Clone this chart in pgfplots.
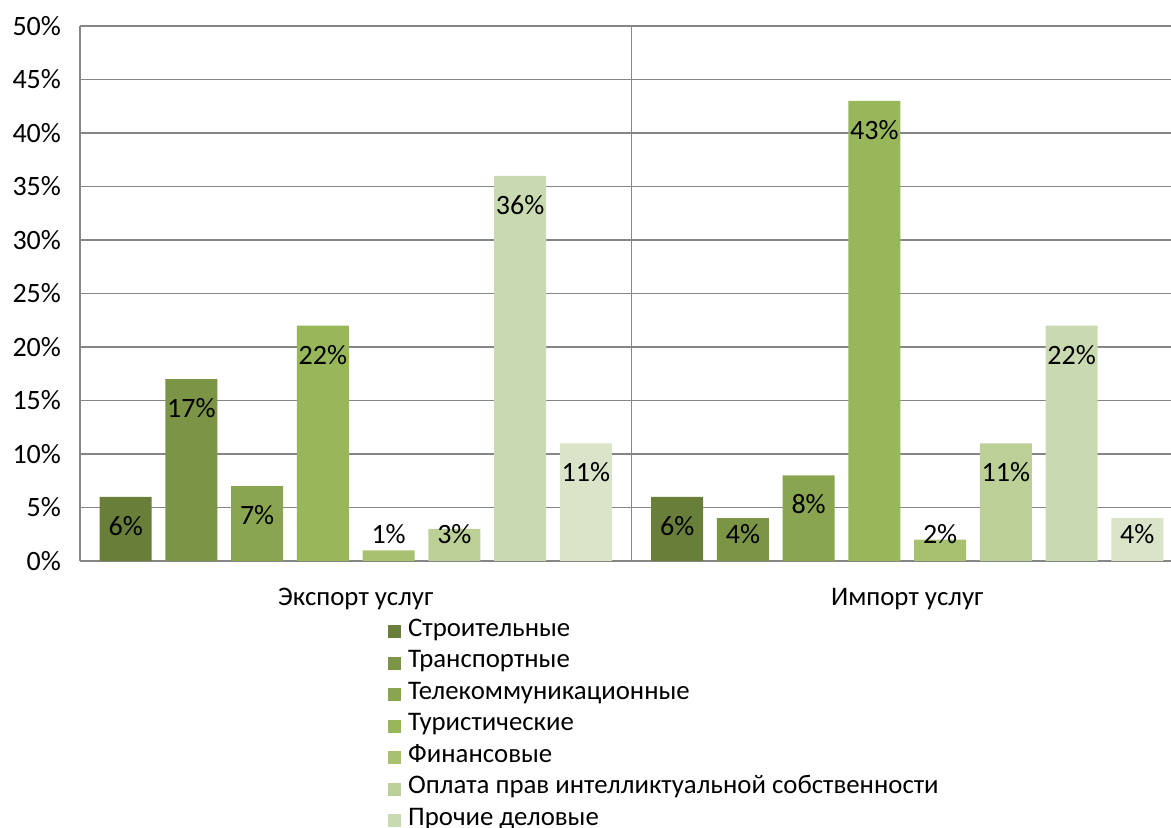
\documentclass[border=0pt]{standalone}
\usepackage{pgfplots}
\pgfplotsset{compat=1.18}
\usepackage{fontspec}
\setmainfont{Carlito}
\definecolor{c1}{HTML}{687E39}
\definecolor{c2}{HTML}{7C9445}
\definecolor{c3}{HTML}{8AA54F}
\definecolor{c4}{HTML}{98B75A}
\definecolor{c5}{HTML}{A7C171}
\definecolor{c6}{HTML}{BBCF96}
\definecolor{c7}{HTML}{CADAB0}
\definecolor{c8}{HTML}{D9E4C8}
\definecolor{gridc}{HTML}{868686}
\begin{document}
\begin{tikzpicture}
\begin{axis}[
  name=ax,
  at={(0,0)}, anchor=south west,
  scale only axis,
  width=551.5pt, height=267.5pt,
  xmin=-0.5, xmax=1.5,
  ymin=0, ymax=50,
  ytick={0,5,...,50},
  yticklabel={\pgfmathprintnumber{\tick}\%},
  xtick={0,1},
  xticklabels={Экспорт услуг, Импорт услуг},
  extra x ticks={0.5},
  extra x tick labels={},
  extra x tick style={grid=major, major tick length=0pt},
  ymajorgrids,
  grid style={draw=gridc, line width=0.8pt},
  axis x line*=bottom, axis y line*=left,
  axis line style={draw=gridc, line width=0.9pt, -},
  major tick length=0pt,
  tick style={draw=none},
  /pgf/number format/assume math mode=true,
  yticklabel style={font=\fontsize{14pt}{16pt}\selectfont, xshift=-6pt},
  xticklabel style={font=\fontsize{13.4pt}{16pt}\selectfont, yshift=-10pt},
  ybar, bar width=0.0944,
  visualization depends on={y \as \rawy},
  nodes near coords={\pgfmathprintnumber{\pgfplotspointmeta}\%},
  every node near coord/.append style={font=\fontsize{14pt}{16pt}\selectfont, color=black, anchor=center,
     yshift={-min(14.5,5.35*\rawy-13.5)*1pt}},
  legend entries={Строительные, Транспортные, Телекоммуникационные, Туристические, Финансовые, Оплата прав интелликтуальной собственности, Прочие деловые},
  legend style={draw=none, fill=none, at={(0.279,-0.1023)}, anchor=north west,
     font=\fontsize{13.4pt}{15.75pt}\selectfont, row sep=0pt, inner sep=0pt,
     nodes={inner sep=0pt, text height=10pt, text depth=5.75pt},
     /tikz/every even column/.append style={column sep=0pt}},
  legend cell align=left,
  legend image code/.code={\fill[#1] (0pt,-3.1pt) rectangle (6.5pt,3.4pt); \path (10pt,0pt);},
]
\addplot[fill=c1, draw=none, bar shift=-0.4172] coordinates {(0,6) (1,6)};
\addplot[fill=c2, draw=none, bar shift=-0.2980] coordinates {(0,17) (1,4)};
\addplot[fill=c3, draw=none, bar shift=-0.1788] coordinates {(0,7) (1,8)};
\addplot[fill=c4, draw=none, bar shift=-0.0596] coordinates {(0,22) (1,43)};
\addplot[fill=c5, draw=none, bar shift=0.0596] coordinates {(0,1) (1,2)};
\addplot[fill=c6, draw=none, bar shift=0.1788] coordinates {(0,3) (1,11)};
\addplot[fill=c7, draw=none, bar shift=0.2980] coordinates {(0,36) (1,22)};
\addplot[fill=c8, draw=none, bar shift=0.4172] coordinates {(0,11) (1,4)};
\end{axis}
\pgfresetboundingbox
\useasboundingbox ([shift={(-40pt,-133.5pt)}]ax.south west) rectangle ([shift={(545.5pt,13pt)}]ax.north west);
\end{tikzpicture}
\end{document}
